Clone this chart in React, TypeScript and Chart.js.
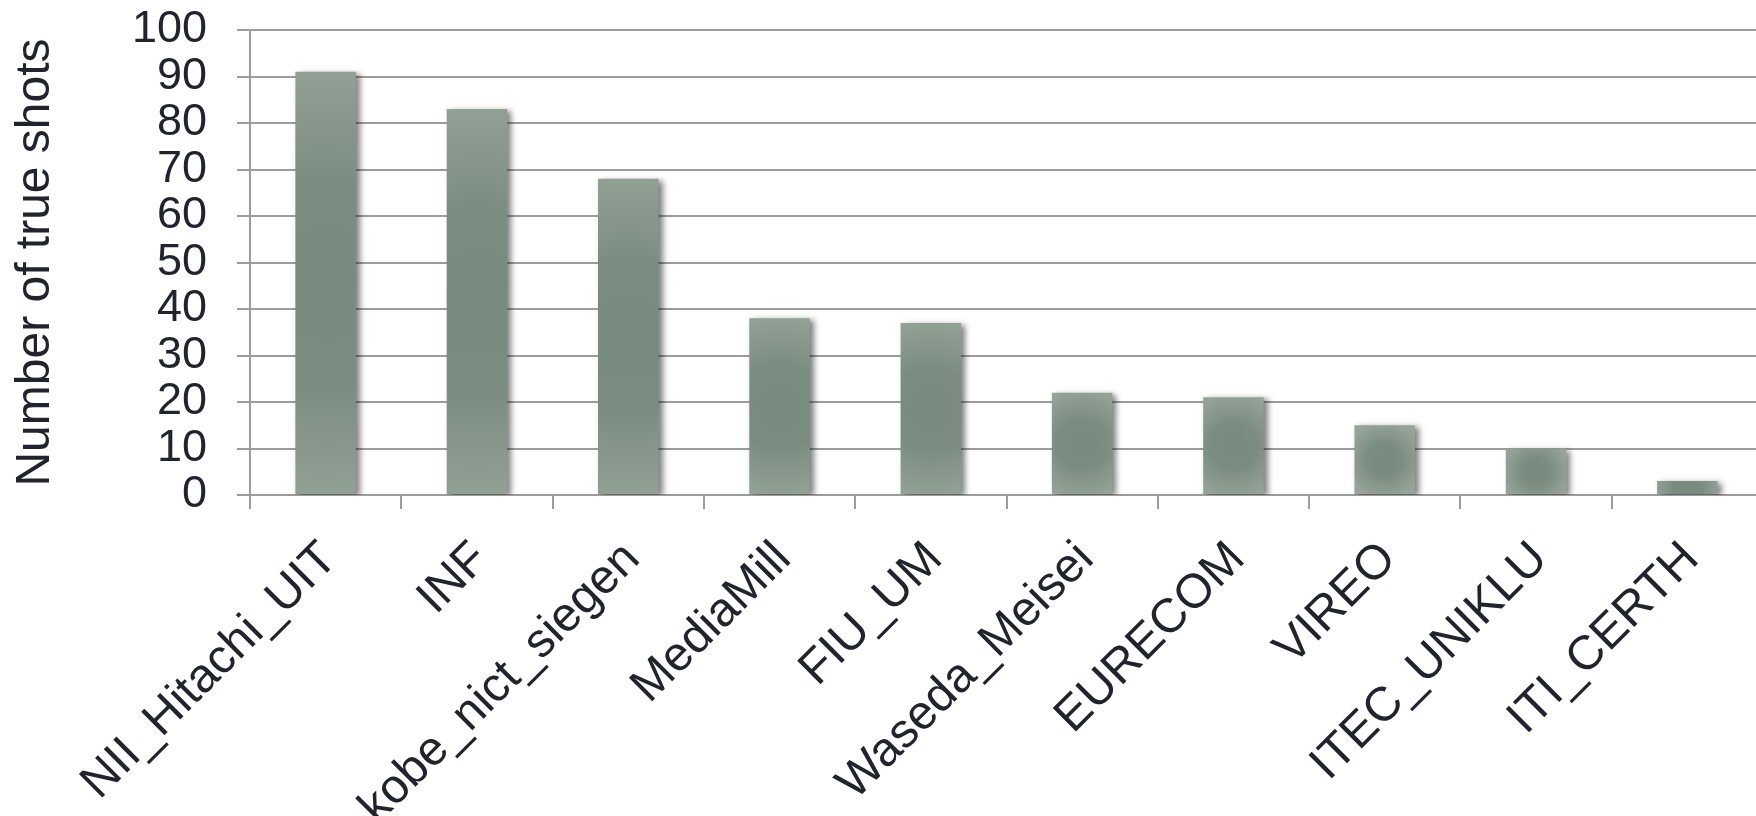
import React, { useEffect, useRef } from "react";
import { Chart, registerables } from "chart.js";

Chart.register(...registerables);

// Teams and their counts of true shots
const teams = [
  "NII_Hitachi_UIT",
  "INF",
  "kobe_nict_siegen",
  "MediaMill",
  "FIU_UM",
  "Waseda_Meisei",
  "EURECOM",
  "VIREO",
  "ITEC_UNIKLU",
  "ITI_CERTH",
];
const trueShots = [91, 83, 68, 38, 37, 22, 21, 15, 10, 3];
const yTicks = [0, 10, 20, 30, 40, 50, 60, 70, 80, 90, 100];

const FONT = "'Liberation Sans', Arial, Helvetica, sans-serif";
const TEXT = "#23232d";
const GRID = "#9c9c9c";
const BAR_PCT = 0.4;

// Radial fill per bar: darker core, lighter rim
function barFill(ctx: any) {
  const chart = ctx.chart;
  const xs = chart.scales?.x;
  const ys = chart.scales?.y;
  if (!chart.chartArea || !xs || !ys || ctx.type !== "data") return "#86978b";
  const i = ctx.dataIndex;
  const v = trueShots[i];
  const cx = xs.getPixelForValue(i);
  const top = ys.getPixelForValue(v);
  const base = ys.getPixelForValue(0);
  const w = (xs.width / teams.length) * BAR_PCT;
  const h = base - top;
  const cy = (top + base) / 2;
  const r = (Math.max(w, h) / 2) * 1.08;
  const g = chart.ctx.createRadialGradient(cx, cy, 0, cx, cy, Math.max(r, 1));
  g.addColorStop(0, "#778a7e");
  g.addColorStop(0.45, "#7b8d81");
  g.addColorStop(1, "#95a398");
  return g;
}

const barShadow = {
  id: "barShadow",
  beforeDatasetsDraw(chart: any) {
    const c = chart.ctx;
    c.save();
    c.shadowColor = "rgba(0,0,0,0.5)";
    c.shadowBlur = 6;
    c.shadowOffsetX = 4;
    c.shadowOffsetY = 2;
  },
  afterDatasetsDraw(chart: any) {
    chart.ctx.restore();
  },
};

export default function App() {
  const ref = useRef<HTMLCanvasElement | null>(null);

  useEffect(() => {
    if (!ref.current) return;
    const chart = new Chart(ref.current, {
      type: "bar",
      data: {
        labels: teams,
        datasets: [
          {
            data: trueShots,
            backgroundColor: barFill,
            borderWidth: 0,
            categoryPercentage: 1,
            barPercentage: BAR_PCT,
          },
        ],
      },
      plugins: [barShadow],
      options: {
        animation: false,
        responsive: false,
        maintainAspectRatio: false,
        events: [],
        layout: { padding: { top: 30, right: 3, left: 0, bottom: 0 } },
        plugins: {
          legend: { display: false },
          tooltip: { enabled: false },
        },
        scales: {
          x: {
            grid: {
              offset: true,
              drawOnChartArea: false,
              drawTicks: true,
              tickLength: 14,
              color: GRID,
              lineWidth: 2,
            },
            border: { display: true, color: GRID, width: 2 },
            ticks: {
              autoSkip: false,
              maxRotation: 45,
              minRotation: 45,
              padding: 22,
              labelOffset: 4,
              color: TEXT,
              font: { family: FONT, size: 48 },
            },
            afterFit(scale: any) {
              scale.height = 321;
              scale.paddingLeft = 0;
              scale.paddingRight = 0;
            },
          },
          y: {
            min: 0,
            max: 100,
            afterBuildTicks(scale: any) {
              scale.ticks = yTicks.map((v) => ({ value: v }));
            },
            grid: {
              color: GRID,
              lineWidth: 2,
              tickLength: 13,
            },
            border: { display: true, color: GRID, width: 2 },
            ticks: {
              autoSkip: false,
              padding: 30,
              color: TEXT,
              font: { family: FONT, size: 45 },
            },
            title: {
              display: true,
              text: "Number of true shots",
              color: TEXT,
              font: { family: FONT, size: 48 },
              padding: { top: 7, bottom: 0 },
            },
            afterFit(scale: any) {
              scale.width = 250;
              scale.paddingTop = 0;
              scale.paddingBottom = 0;
            },
          },
        },
      },
    });
    return () => chart.destroy();
  }, []);

  return (
    <div
      style={{
        position: "absolute",
        left: 0,
        top: 0,
        width: 1756,
        height: 816,
        overflow: "hidden",
        background: "#ffffff",
      }}
    >
      <canvas ref={ref} width={1766} height={816} style={{ display: "block" }} />
    </div>
  );
}
